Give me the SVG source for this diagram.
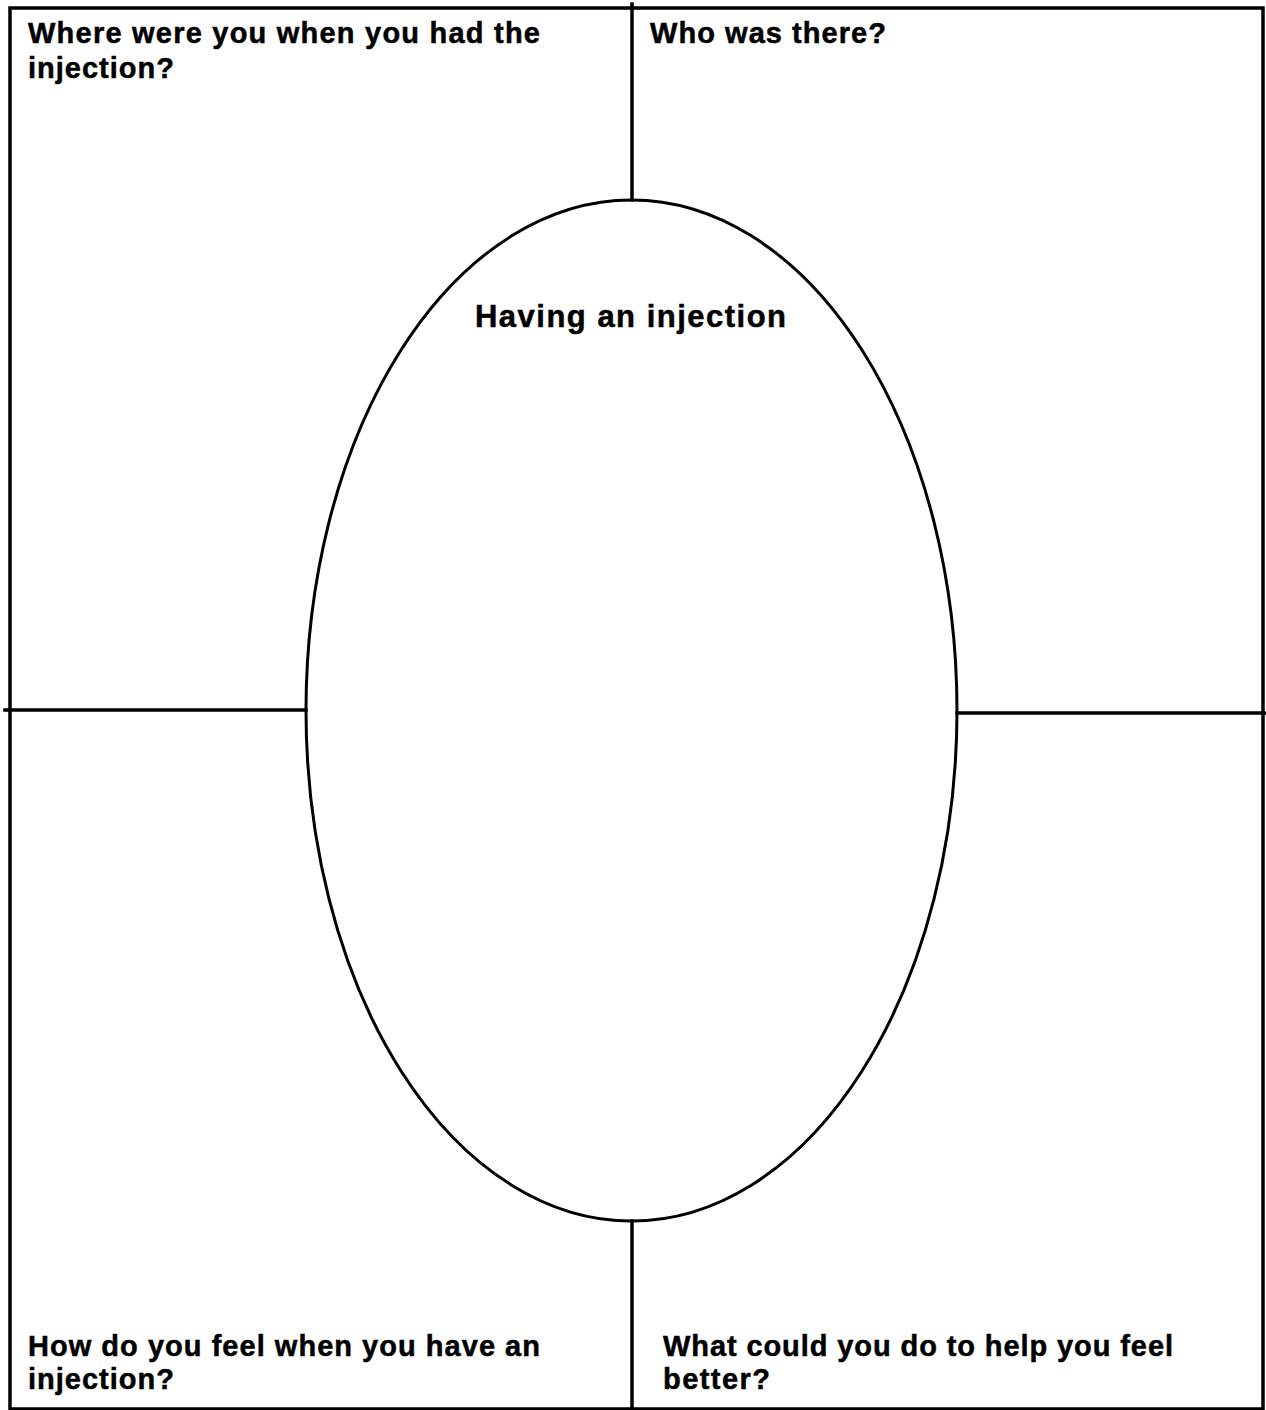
<svg xmlns="http://www.w3.org/2000/svg" width="1266" height="1410" viewBox="0 0 1266 1410">
<style>
.ln{stroke:#000;stroke-width:3.5;fill:none;stroke-linecap:square}
.q{font-family:"Liberation Sans",Arial,sans-serif;font-weight:bold;font-size:29px;fill:#000;stroke:#000;stroke-width:0.5}
.t{font-family:"Liberation Sans",Arial,sans-serif;font-weight:bold;font-size:31px;fill:#000;stroke:#000;stroke-width:0.5}
</style>
<rect width="1266" height="1410" fill="#fff"/>
<g id="frame">
<rect class="ln" x="10" y="8" width="1253" height="1401"/>
</g>
<g id="connectors">
<line class="ln" x1="632" y1="4" x2="632" y2="200"/>
<line class="ln" x1="632" y1="1221" x2="632" y2="1410"/>
<line class="ln" x1="5" y1="710" x2="306" y2="710"/>
<line class="ln" x1="957" y1="713" x2="1266" y2="713"/>
</g>
<g id="center">
<ellipse cx="631.5" cy="710.5" rx="325.5" ry="510.5" fill="none" stroke="#000" stroke-width="3"/>
<text class="t" x="475" y="327" textLength="311" lengthAdjust="spacing">Having an injection</text>
</g>
<g id="where">
<text class="q" x="28" y="43" textLength="512" lengthAdjust="spacing">Where were you when you had the</text>
<text class="q" x="28" y="78" textLength="146" lengthAdjust="spacing">injection?</text>
</g>
<g id="who">
<text class="q" x="650" y="43" textLength="236" lengthAdjust="spacing">Who was there?</text>
</g>
<g id="feel">
<text class="q" x="28" y="1356" textLength="512" lengthAdjust="spacing">How do you feel when you have an</text>
<text class="q" x="28" y="1389" textLength="146" lengthAdjust="spacing">injection?</text>
</g>
<g id="help">
<text class="q" x="663" y="1356" textLength="510" lengthAdjust="spacing">What could you do to help you feel</text>
<text class="q" x="663" y="1389" textLength="107" lengthAdjust="spacing">better?</text>
</g>
</svg>
